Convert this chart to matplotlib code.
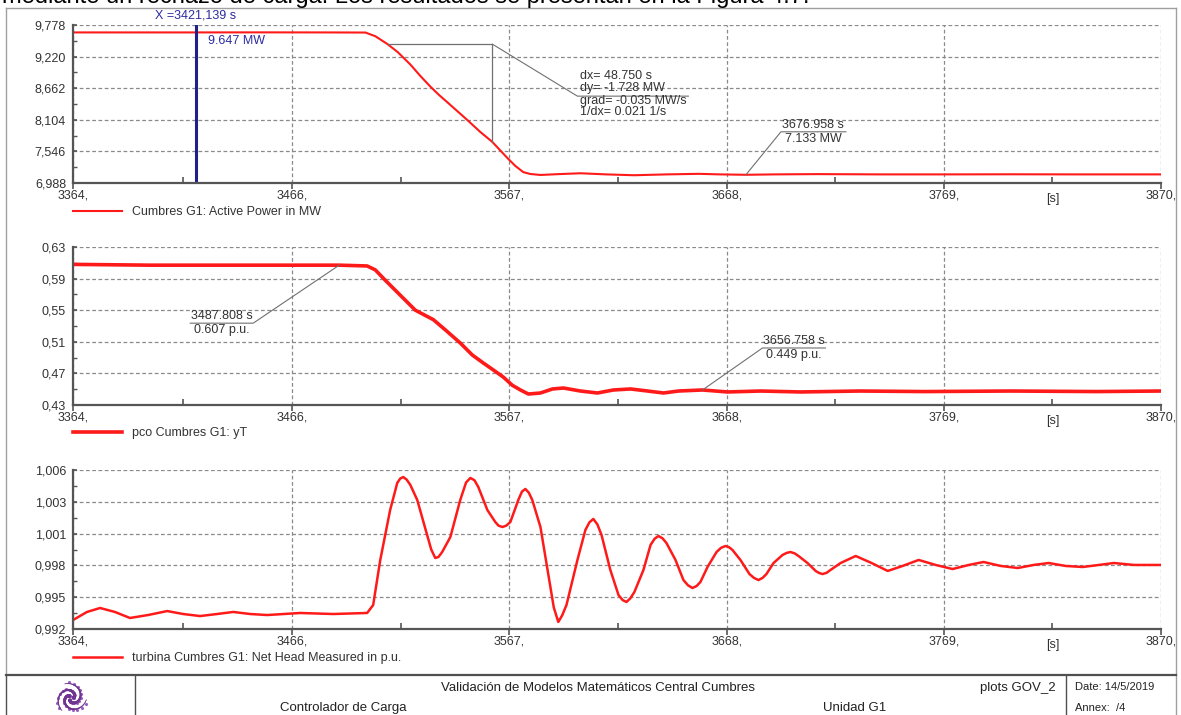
import numpy as np
import matplotlib
matplotlib.use("Agg")
import matplotlib.pyplot as plt
from matplotlib.lines import Line2D

plt.rcParams['font.family'] = ['Liberation Sans', 'DejaVu Sans']

# ---------------------------------------------------------------- data
t_min, t_max = 3364, 3870
x_major = [3364, 3466, 3567, 3668, 3769, 3870]
x_major_labels = ["3364,", "3466,", "3567,", "3668,", "3769,", "3870,"]
x_minor = [3415, 3516.5, 3617.5, 3718.5, 3819.5]
x_minor_labels = ["", "", "", "", "[s]"]

# Cumbres G1: active power (MW)
p_time = [3364, 3400, 3421.139, 3450, 3480, 3500, 3504.6, 3510.3, 3515, 3520.9,
          3525.5, 3530.2, 3534.3, 3538.5, 3547.4, 3553.4, 3559.05, 3566.0, 3569.7,
          3573.4, 3576.7, 3581.4, 3590, 3600, 3612, 3625, 3640, 3655, 3665,
          3676.958, 3690, 3710, 3740, 3770, 3800, 3830, 3870]
p_value = [9.647, 9.647, 9.647, 9.648, 9.647, 9.645, 9.58, 9.44, 9.30, 9.08,
           8.88, 8.69, 8.54, 8.40, 8.10, 7.89, 7.712, 7.43, 7.29,
           7.18, 7.147, 7.13, 7.145, 7.16, 7.14, 7.125, 7.14, 7.15, 7.14,
           7.133, 7.14, 7.145, 7.14, 7.14, 7.142, 7.14, 7.14]
p_ticks = [6.988, 7.546, 8.104, 8.662, 9.220, 9.778]
p_tick_labels = ["6,988", "7,546", "8,104", "8,662", "9,220", "9,778"]

# pco Cumbres G1: yT (p.u.)
y_time = [3364, 3400, 3440, 3487.808, 3500.8, 3504.6, 3509.2, 3516.2, 3523.2,
          3531.6, 3537.2, 3544.1, 3549.7, 3554.8, 3559.5, 3564.1, 3568.3, 3572.1,
          3575.8, 3581.4, 3587.0, 3592.1, 3600.0, 3607.9, 3615.3, 3623.3, 3631.2,
          3638.6, 3645.6, 3656.758, 3668.4, 3683.8, 3702.4, 3730, 3760, 3800,
          3840, 3870]
y_value = [0.608, 0.607, 0.607, 0.607, 0.606, 0.601, 0.588, 0.569, 0.550,
           0.538, 0.525, 0.5085, 0.4933, 0.4832, 0.4743, 0.4654, 0.455, 0.449,
           0.4439, 0.4452, 0.4503, 0.4515, 0.4477, 0.4452, 0.449, 0.4503, 0.4477,
           0.4452, 0.4477, 0.449, 0.4465, 0.4477, 0.4465, 0.4477, 0.447, 0.4477,
           0.447, 0.4477]
y_ticks = [0.43, 0.47, 0.51, 0.55, 0.59, 0.63]
y_tick_labels = ["0,43", "0,47", "0,51", "0,55", "0,59", "0,63"]

# turbina Cumbres G1: net head measured (p.u.)
h_time = [3364.0, 3370.5, 3376.6, 3383.5, 3390.5, 3398.9, 3407.8, 3415.2, 3423.1,
          3431.0, 3438.5, 3446.4, 3454.3, 3469.7, 3485.0, 3500.8, 3503.6, 3506.9,
          3511.5, 3514.8, 3516.2, 3517.6, 3519.2, 3520.9, 3524.1, 3528.3, 3530.6,
          3532.5, 3534.0, 3535.7, 3539.5, 3544.1, 3546.8, 3548.8, 3550.7, 3552.5,
          3556.7, 3560.4, 3561.9, 3563.7, 3565.5, 3567.4, 3571.1, 3572.8, 3574.4,
          3576.0, 3577.6, 3581.4, 3585.1, 3587.6, 3589.7, 3591.5, 3593.5, 3598.6,
          3602.3, 3604.2, 3606.0, 3607.9, 3609.8, 3613.9, 3617.7, 3619.6, 3621.4,
          3623.2, 3625.1, 3629.3, 3632.6, 3634.5, 3636.3, 3638.2, 3640.0, 3644.2,
          3647.9, 3650.0, 3652.1, 3654.0, 3655.8, 3659.1, 3663.3, 3665.4, 3667.5,
          3669.1, 3670.7, 3674.4, 3678.6, 3680.7, 3682.8, 3684.7, 3686.5, 3689.8,
          3694.0, 3695.9, 3697.7, 3699.6, 3701.4, 3705.6, 3709.4, 3711.0, 3712.6,
          3714.5, 3716.3, 3721.0, 3728.0, 3735.4, 3742.9, 3749.8, 3757.3, 3765.2,
          3773.1, 3780.6, 3787.5, 3795.5, 3803.4, 3810.8, 3817.8, 3825.7, 3833.6,
          3841.1, 3848.1, 3857.4, 3870.0]
h_value = [0.99279, 0.99350, 0.99385, 0.99350, 0.99297, 0.99323, 0.99358, 0.99332,
           0.99314, 0.99332, 0.99350, 0.99332, 0.99323, 0.99341, 0.99332, 0.99341,
           0.99411, 0.99808, 1.00248, 1.00486, 1.00525, 1.00538, 1.00515, 1.00468,
           1.00336, 1.00054, 0.99900, 0.99825, 0.99835, 0.99878, 1.00010, 1.00336,
           1.00490, 1.00530, 1.00510, 1.00450, 1.00248, 1.00142, 1.00110, 1.00098,
           1.00110, 1.00142, 1.00336, 1.00410, 1.00433, 1.00400, 1.00336, 1.00098,
           0.99675, 0.99390, 0.99262, 0.99320, 0.99411, 0.99808, 1.00072, 1.00140,
           1.00169, 1.00120, 1.00028, 0.99720, 0.99499, 0.99455, 0.99438, 0.99470,
           0.99526, 0.99720, 0.99940, 0.99995, 1.00019, 0.99998, 0.99957, 0.99808,
           0.99631, 0.99585, 0.99561, 0.99578, 0.99614, 0.99746, 0.99878, 0.99915,
           0.99931, 0.99920, 0.99896, 0.99808, 0.99684, 0.99650, 0.99631, 0.99650,
           0.99684, 0.99781, 0.99852, 0.99870, 0.99878, 0.99866, 0.99843, 0.99781,
           0.99711, 0.99693, 0.99684, 0.99695, 0.99720, 0.99781, 0.99843, 0.99781,
           0.99711, 0.99755, 0.99808, 0.99764, 0.99728, 0.99764, 0.99790, 0.99755,
           0.99737, 0.99764, 0.99781, 0.99755, 0.99746, 0.99764, 0.99781, 0.99764,
           0.99764]
h_ticks = [0.992, 0.9948, 0.9976, 1.0004, 1.0032, 1.006]
h_tick_labels = ["0,992", "0,995", "0,998", "1,001", "1,003", "1,006"]

# cursor and measurement readings
cursor_t = 3421.139
meas_t1 = 3510.3
meas_dx = 48.750
meas_dy = -1.728

# ---------------------------------------------------------------- figure
W, H = 1181, 715
fig = plt.figure(figsize=(W / 100, H / 100), dpi=100)
fig.patch.set_facecolor("white")

RED = "#ff1a1a"
GRID = "#8a8a8a"
AXC = "#555555"
TXT = "#333333"
FS = 9


def fx(px):
    return px / W


def fy(py):
    return 1 - py / H


def make_axes(top_px, bottom_px, ticks, tick_labels):
    ax = fig.add_axes([fx(73), fy(bottom_px), fx(1161) - fx(73),
                       (bottom_px - top_px) / H])
    ax.set_xlim(t_min, t_max)
    ax.set_ylim(ticks[0], ticks[-1])
    ax.set_xticks(x_major)
    ax.set_xticklabels(x_major_labels)
    ax.set_xticks(x_minor, minor=True)
    ax.set_xticklabels(x_minor_labels, minor=True)
    ax.set_yticks(ticks)
    ax.set_yticklabels(tick_labels)
    ax.set_yticks([(a + b) / 2 for a, b in zip(ticks[:-1], ticks[1:])], minor=True)
    ax.tick_params(axis="x", which="major", direction="out", length=4, width=1.2,
                   color=AXC, labelsize=FS, labelcolor=TXT, pad=0.5)
    ax.tick_params(axis="x", which="minor", direction="in", length=4, width=1.2,
                   color=AXC, labelsize=FS, labelcolor=TXT, pad=7.0)
    ax.tick_params(axis="y", which="major", direction="in", length=3, width=1.2,
                   color=AXC, labelsize=FS, labelcolor=TXT, pad=5)
    ax.tick_params(axis="y", which="minor", direction="in", length=3, width=1.0,
                   color=AXC)
    for side in ("top", "right"):
        ax.spines[side].set_visible(False)
    for side in ("left", "bottom"):
        ax.spines[side].set_color(AXC)
        ax.spines[side].set_linewidth(1.6)
        ax.spines[side].set_zorder(6)
    ax.grid(True, which="major", color=GRID, linestyle=(0, (3, 2)), linewidth=0.9)
    ax.set_axisbelow(True)
    return ax


def add_legend(ax, line, label, y_px):
    ax.legend([line], [label], loc="center left",
              bbox_to_anchor=(fx(73), fy(y_px)), bbox_transform=fig.transFigure,
              frameon=False, borderpad=0, borderaxespad=0, handlelength=3.9,
              handletextpad=0.85, fontsize=FS, labelcolor=TXT)


def leader(ax, t, v, dx, dy, length, line1, line2):
    disp = ax.transData.transform((t, v))
    corner = disp + np.array([dx, dy])
    end = corner + np.array([length, 0])
    inv = ax.transData.inverted()
    pts = inv.transform(np.array([disp, corner, end]))
    ax.plot(pts[:, 0], pts[:, 1], color="#707070", lw=0.8, clip_on=False, zorder=7)
    cx = (corner[0] + end[0]) / 2
    p1 = inv.transform((cx, corner[1] + 1))
    p2 = inv.transform((cx, corner[1] - 1))
    ax.text(p1[0], p1[1], line1, ha="center", va="bottom", fontsize=FS, color=TXT,
            zorder=8)
    ax.text(p2[0], p2[1], line2, ha="center", va="top", fontsize=FS, color=TXT,
            zorder=8)


# ---- panel 1: active power
ax1 = make_axes(25, 183, p_ticks, p_tick_labels)
l1, = ax1.plot(p_time, p_value, color=RED, lw=1.5, zorder=4)
add_legend(ax1, l1, "Cumbres G1: Active Power in MW", 212)

cursor_v = float(np.interp(cursor_t, p_time, p_value))
ax1.axvline(cursor_t, color="#20208a", lw=2.2, zorder=5)
ax1.annotate("X =3421,139 s", xy=(cursor_t, 1), xycoords=("data", "axes fraction"),
             xytext=(0, 10), textcoords="offset pixels", ha="center", va="center",
             fontsize=FS, color="#2b2ba0", annotation_clip=False,
             bbox=dict(boxstyle="square,pad=0.35", fc="white", ec="none"), zorder=9)
ax1.annotate(f"{cursor_v:.3f} MW", xy=(cursor_t, cursor_v), xytext=(12, -9),
             textcoords="offset pixels", ha="left", va="center", fontsize=FS,
             color="#2b2ba0", zorder=9)

# slope measurement
meas_t2 = meas_t1 + meas_dx
meas_v1 = float(np.interp(meas_t1, p_time, p_value))
meas_v2 = meas_v1 + meas_dy
ax1.plot([meas_t1, meas_t2, meas_t2], [meas_v1, meas_v1, meas_v2], color="#707070",
         lw=0.9, zorder=6)
d1 = ax1.transData.transform((meas_t2, meas_v1))
c1 = d1 + np.array([85, -52])
e1 = c1 + np.array([111, 0])
inv1 = ax1.transData.inverted()
mp = inv1.transform(np.array([d1, c1, e1]))
ax1.plot(mp[:, 0], mp[:, 1], color="#707070", lw=0.8, zorder=6)
meas_lines = [
    (20, f"dx= {meas_dx:.3f} s"),
    (8, f"dy= {meas_dy:.3f} MW"),
    (-5, f"grad= {meas_dy / meas_dx:.3f} MW/s"),
    (-16, f"1/dx= {1 / meas_dx:.3f} 1/s"),
]
for off, txt in meas_lines:
    p = inv1.transform((c1[0] + 3, c1[1] + off))
    ax1.text(p[0], p[1], txt, ha="left", va="center", fontsize=FS, color=TXT,
             zorder=8)

leader(ax1, 3676.958, float(np.interp(3676.958, p_time, p_value)), 35, 43, 65,
       "3676.958 s", "7.133 MW")

# ---- panel 2: yT
ax2 = make_axes(247, 405, y_ticks, y_tick_labels)
l2, = ax2.plot(y_time, y_value, color=RED, lw=2.6, zorder=4,
               solid_joinstyle="round")
add_legend(ax2, l2, "pco Cumbres G1: yT", 433)
leader(ax2, 3487.808, float(np.interp(3487.808, y_time, y_value)), -86, -58, -63,
       "3487.808 s", "0.607 p.u.")
leader(ax2, 3656.758, float(np.interp(3656.758, y_time, y_value)), 60, 42, 63,
       "3656.758 s", "0.449 p.u.")

# ---- panel 3: net head
ax3 = make_axes(470, 629, h_ticks, h_tick_labels)
l3, = ax3.plot(h_time, h_value, color=RED, lw=1.8, zorder=4,
               solid_joinstyle="round")
add_legend(ax3, l3, "turbina Cumbres G1: Net Head Measured in p.u.", 658)

# ---------------------------------------------------------------- page text
fig.text(fx(2), fy(3), "mediante un rechazo de carga. Los resultados se presentan "
         "en la Figura 4.7.", fontsize=17, color="black", ha="left", va="baseline")

FRAME = "#a0a0a0"
fig.add_artist(Line2D([fx(6), fx(6)], [fy(8), fy(675)], color=FRAME, lw=1.0))
fig.add_artist(Line2D([fx(6), fx(1176)], [fy(8), fy(8)], color=FRAME, lw=1.0))
fig.add_artist(Line2D([fx(1176), fx(1176)], [fy(8), fy(715)], color=FRAME, lw=1.0))

# title block
TB = "#505050"
fig.add_artist(Line2D([fx(6), fx(1176)], [fy(675), fy(675)], color=TB, lw=1.6))
fig.add_artist(Line2D([fx(6), fx(6)], [fy(675), fy(715)], color=TB, lw=1.0))
fig.add_artist(Line2D([fx(135), fx(135)], [fy(675), fy(715)], color=TB, lw=1.0))
fig.add_artist(Line2D([fx(1066), fx(1066)], [fy(675), fy(715)], color=TB, lw=1.0))

fig.text(fx(598), fy(688), "Validación de Modelos Matemáticos Central Cumbres",
         ha="center", va="center", fontsize=9.5, color="#222222")
fig.text(fx(1056), fy(688), "plots GOV_2", ha="right", va="center", fontsize=9.5,
         color="#222222")
fig.text(fx(343), fy(708), "Controlador de Carga", ha="center", va="center",
         fontsize=9.5, color="#222222")
fig.text(fx(855), fy(708), "Unidad G1", ha="center", va="center", fontsize=9.5,
         color="#222222")
fig.text(fx(1075), fy(687), "Date: 14/5/2019", ha="left", va="center", fontsize=8,
         color="#222222")
fig.text(fx(1075), fy(708), "Annex:  /4", ha="left", va="center", fontsize=8,
         color="#222222")

# logo: three-armed purple swirl
lax = fig.add_axes([fx(54), fy(716), fx(34), 36 / H])
lax.set_xlim(-1.1, 1.1)
lax.set_ylim(-1.1, 1.1)
lax.set_aspect("equal")
lax.axis("off")
theta = np.linspace(0.0, 1.3 * np.pi, 60)
radius = 0.15 + 0.85 * theta / theta[-1]
width = 0.5 + 2.0 * (1 - theta / theta[-1])
for k in range(3):
    phase = k * 2 * np.pi / 3
    xs = radius * np.cos(theta + phase)
    ys = radius * np.sin(theta + phase)
    for i in range(len(theta) - 1):
        lax.plot(xs[i:i + 2], ys[i:i + 2], color="#6f3593", lw=width[i],
                 solid_capstyle="round")
    lax.scatter(xs[::5] * 1.08, ys[::5] * 1.08, s=1.5, color="#9a5fc0")

fig.savefig("out.png", dpi=100, facecolor="white")
